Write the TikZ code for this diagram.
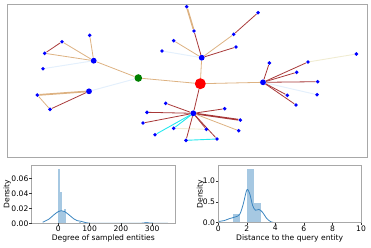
\documentclass[tikz,border=0pt]{standalone}
\usepackage{fontspec}
\setmainfont{DejaVu Sans}
\usetikzlibrary{backgrounds}
\definecolor{nblue}{HTML}{0000FF}
\definecolor{nred}{HTML}{FF0000}
\definecolor{ngreen}{HTML}{008000}
\definecolor{ered}{HTML}{A83838}
\definecolor{etan}{HTML}{DDB282}
\definecolor{eblue}{HTML}{E4F0FC}
\definecolor{ecyan}{HTML}{22E8EE}
\definecolor{ebeige}{HTML}{F0ECD2}
\definecolor{barblue}{HTML}{A6C8E2}
\definecolor{kdeblue}{HTML}{3A85C0}
\definecolor{spine}{HTML}{A8A8A8}
\tikzset{
  leaf/.style={circle,fill=nblue,inner sep=0pt,minimum size=3.9pt},
  hub/.style={circle,fill=nblue,inner sep=0pt,minimum size=5.8pt},
  rootn/.style={circle,fill=nred,inner sep=0pt,minimum size=11pt},
  gnode/.style={circle,fill=ngreen,inner sep=0pt,minimum size=7.6pt},
  er/.style={draw=ered,line width=0.8pt},
  et/.style={draw=etan,line width=0.8pt},
  eb/.style={draw=eblue,line width=1pt},
  ec/.style={draw=ecyan,line width=0.9pt},
  ey/.style={draw=ebeige,line width=0.9pt},
  thk/.style={line width=1.7pt},
  lbl/.style={font=\fontsize{7.6}{8}\selectfont,inner sep=0pt},
  frm/.style={draw=spine,line width=0.9pt},
  tick/.style={draw=black!80,line width=0.5pt},
}
\begin{document}
\begin{tikzpicture}[x=1pt,y=-1pt]
\useasboundingbox (0,0) rectangle (371,247);
% ---------------- graph frame ----------------
\draw[frm] (7.3,4.7) rectangle (367,157.3);
% nodes
\node[rootn] (r) at (200.3,83.7) {};
\node[gnode] (g) at (138.3,78) {};
\node[hub] (h1) at (93.7,60.7) {};
\node[hub] (h2) at (89,91.3) {};
\node[hub] (ht) at (201.7,57.7) {};
\node[hub] (hr) at (263,82.3) {};
\node[hub] (hb) at (193.3,113.3) {};
\node[leaf] (l1) at (89.7,35.3) {};
\node[leaf] (l2) at (62,41.7) {};
\node[leaf] (l3) at (44.7,53.3) {};
\node[leaf] (l4) at (43,68.7) {};
\node[leaf] (l5) at (37.3,95) {};
\node[leaf] (l6) at (50,109.3) {};
\node[leaf] (t1) at (186.7,6.7) {};
\node[leaf] (t2) at (194,31) {};
\node[leaf] (t3) at (258,12.7) {};
\node[leaf] (t4) at (233.7,34.3) {};
\node[leaf] (t5) at (236,47) {};
\node[leaf] (t6) at (173.7,40.7) {};
\node[leaf] (t7) at (162,51) {};
\node[leaf] (r1) at (269.3,63) {};
\node[leaf] (r2) at (308,62) {};
\node[leaf] (r3) at (356.3,54) {};
\node[leaf] (r4) at (296.7,72.3) {};
\node[leaf] (r5) at (317.7,81.7) {};
\node[leaf] (r6) at (317,94.7) {};
\node[leaf] (r7) at (287.3,95.3) {};
\node[leaf] (r8) at (296,105) {};
\node[leaf] (b1) at (165.7,103.3) {};
\node[leaf] (b2) at (147,112.3) {};
\node[leaf] (b3) at (143,123) {};
\node[leaf] (b4) at (155,134.7) {};
\node[leaf] (b5) at (173.7,128.3) {};
\node[leaf] (b6) at (186,140.3) {};
\node[leaf] (b7) at (206.3,129.3) {};
\node[leaf] (b8) at (217,139) {};
\node[leaf] (b9) at (224.7,108.7) {};
\node[leaf] (b10) at (240.3,120) {};
\node[leaf] (b11) at (238.7,130.7) {};
\begin{scope}[on background layer]
% central
\draw[et] (g) -- (r);
\draw[et] (r) -- (ht);
\draw[et] (r) -- (hr);
\draw[er] (r) -- (hb);
% left
\draw[et] (h1) -- (g);
\draw[eb] (h2) -- (g);
\draw[et] (h1) -- (l1);
\draw[et] (h1) -- (l2);
\draw[et] (h1) -- (l3);
\draw[er] (l2) -- (l3);
\draw[eb] (h1) -- (l4);
\draw[et,thk] (h2) -- (l5);
\draw[et] (l5) -- (l6);
\draw[er] (l6) -- (h2);
% top
\draw[et,thk] (t1) -- (t2);
\draw[er] (t2) -- (ht);
\draw[et] (ht) -- (t4);
\draw[er] (t4) -- (t3);
\draw[er] (ht) -- (t5);
\draw[et] (ht) -- (t6);
\draw[eb] (ht) -- (t7);
% right
\draw[er] (hr) -- (r1);
\draw[er] (hr) -- (r2);
\draw[ey] (r2) -- (r3);
\draw[er] (hr) -- (r4);
\draw[er] (hr) -- (r5);
\draw[eb] (hr) -- (r6);
\draw[er] (hr) -- (r7);
\draw[er] (hr) -- (r8);
% bottom
\draw[er] (hb) -- (b1);
\draw[er] (hb) -- (b2);
\draw[er] (hb) -- (b3);
\draw[ec] (hb) -- (b4);
\draw[ec] (hb) -- (b5);
\draw[ey] (b5) -- (b7);
\draw[er] (hb) -- (b6);
\draw[ec] (b6) -- (b8);
\draw[er] (hb) -- (b7);
\draw[er] (hb) -- (b8);
\draw[er] (hb) -- (b9);
\draw[er,thk] (hb) -- (b10);
\draw[et] (hb) -- (b11);
\end{scope}
% ---------------- left histogram ----------------
\begin{scope}[shift={(58.3,223.3)},xscale=0.313,yscale=-750]
\fill[barblue] (0,0) rectangle (6.5,0.073);
\fill[barblue] (6.5,0) rectangle (13,0.042);
\fill[barblue] (13,0) rectangle (19.5,0.016);
\fill[barblue] (19.5,0) rectangle (26,0.019);
\fill[barblue] (67,0) rectangle (74,0.002);
\fill[barblue] (278,0) rectangle (285,0.002);
\draw[kdeblue,line width=0.8pt] plot[smooth] coordinates {(-50,0.0014) (-30,0.0056) (-15,0.011) (0,0.0157) (10,0.0168) (20,0.0157) (35,0.011) (50,0.0058) (60,0.0036) (72,0.0027) (85,0.0012) (100,0.0002) (120,0) (250,0) (270,0.0004) (282,0.0008) (295,0.0004) (315,0) (350,0)};
\end{scope}
\draw[frm] (31.7,165) rectangle (175,223.3);
\foreach \xv/\lab [count=\i] in {58.3/0,89.6/100,120.9/200,152.2/300}{
  \draw[tick] (\xv,223.3) -- (\xv,225.6);
  \node[lbl,anchor=north] (lx\i) at (\xv,225.8) {\lab};
}
\foreach \yv/\lab [count=\i] in {223.3/0.00,208.3/0.02,193.3/0.04,178.3/0.06}{
  \draw[tick] (31.7,\yv) -- (29.4,\yv);
  \node[lbl,anchor=east] (ly\i) at (28.6,\yv) {\lab};
}
\node[lbl] (xlabL) at (103.3,238.5) {Degree of sampled entities};
\node[lbl,rotate=90] (ylabL) at (7.2,194) {Density};
% ---------------- right histogram ----------------
\begin{scope}[shift={(218.3,222.7)},xscale=14.27,yscale=-41.6]
\fill[barblue] (0,0) rectangle (0.5,0.02);
\fill[barblue] (1,0) rectangle (1.5,0.2);
\fill[barblue] (2,0) rectangle (2.5,1.3);
\fill[barblue] (2.5,0) rectangle (3,0.47);
\draw[kdeblue,line width=0.8pt] plot[smooth] coordinates {(0,0.03) (0.4,0.05) (0.8,0.1) (1.2,0.14) (1.5,0.2) (1.75,0.45) (2,0.79) (2.2,0.7) (2.4,0.42) (2.6,0.3) (2.85,0.32) (3.1,0.25) (3.4,0.1) (3.7,0.02) (4,0)};
\end{scope}
\draw[frm] (218.3,165) rectangle (361,222.7);
\foreach \xv/\lab [count=\i] in {218.3/0,246.8/2,275.4/4,303.9/6,332.5/8,361/10}{
  \draw[tick] (\xv,222.7) -- (\xv,225);
  \node[lbl,anchor=north] (rx\i) at (\xv,225.2) {\lab};
}
\foreach \yv/\lab [count=\i] in {222.7/0.0,201.9/0.5,181.1/1.0}{
  \draw[tick] (218.3,\yv) -- (216,\yv);
  \node[lbl,anchor=east] (ry\i) at (215.2,\yv) {\lab};
}
\node[lbl] (xlabR) at (289.7,238.5) {Distance to the query entity};
\node[lbl,rotate=90] (ylabR) at (200.5,194) {Density};
\end{tikzpicture}
\end{document}
